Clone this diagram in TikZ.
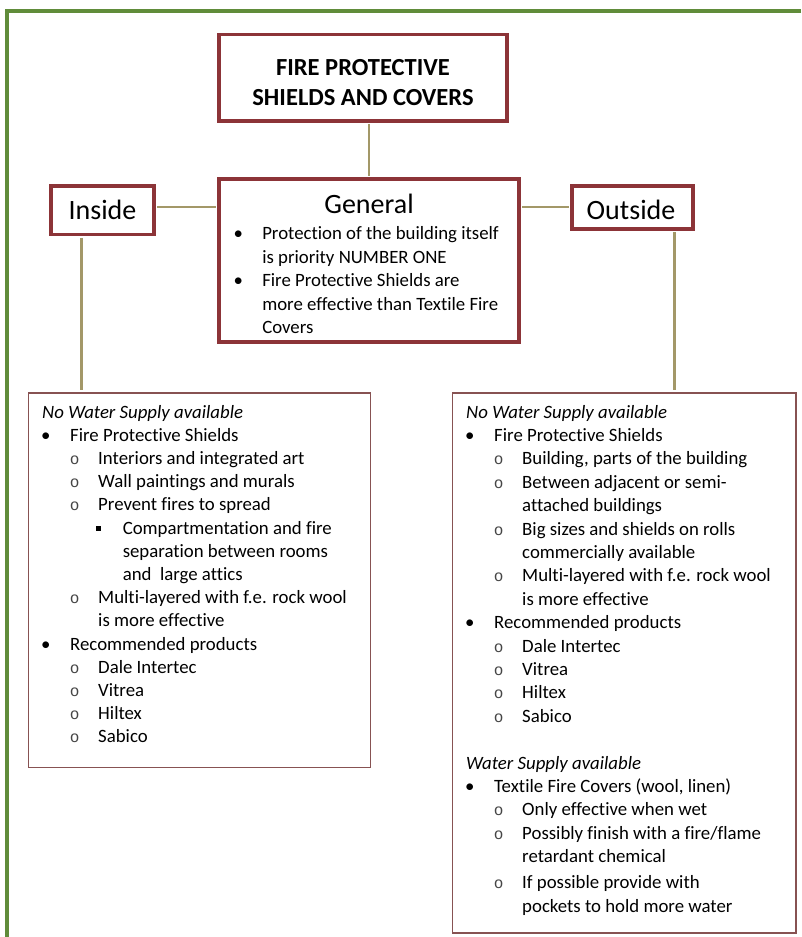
\documentclass[tikz,border=0pt]{standalone}
\usepackage{fontspec}
\setmainfont{Carlito}[Ligatures=NoCommon]
\newfontfamily\monofam{Liberation Mono}
\usetikzlibrary{fit}
\definecolor{boxred}{RGB}{140,52,56}
\definecolor{bigred}{RGB}{135,82,82}
\definecolor{connol}{RGB}{163,152,104}
\definecolor{framegreen}{RGB}{96,140,58}
\definecolor{circgray}{RGB}{70,70,70}
% bullet line: #1 bullet centre, #2 glyph, #3 text start (all from the box's left edge)
\newcommand\Bl[3]{\makebox[0pt][l]{\hspace*{#1}\makebox[0pt][c]{#2}}\hspace*{#3}}
\newcommand\Czero{\hspace*{10.1pt}}
\newcommand\Ione{\Bl{12.75pt}{\textbullet}{31.1pt}}
\newcommand\Cone{\hspace*{31.1pt}}
\newcommand\Itwo{\Bl{34.5pt}{{\monofam\fontsize{12pt}{12pt}\selectfont\color{circgray}o}}{52.1pt}}
\newcommand\Ctwo{\hspace*{52.1pt}}
\newcommand\Ithree{\Bl{52.5pt}{\rule[2.6pt]{3.75pt}{3.75pt}}{70.5pt}}
\newcommand\Cthree{\hspace*{70.5pt}}
\begin{document}
\begin{tikzpicture}[x=0.75pt,y=-0.75pt,
  hbox/.style={draw=boxred, line width=2.6pt, inner sep=0pt},
  bigbox/.style={draw=bigred, line width=1.3pt, inner sep=0pt},
  conn/.style={draw=connol, line width=2pt, shorten <=1.3pt, shorten >=1.3pt},
  body/.style={inner sep=0pt, anchor=base west, font=\fontsize{14.1pt}{17.45pt}\selectfont},
  head/.style={inner sep=0pt, anchor=base, font=\fontsize{21pt}{25pt}\selectfont},
  titletext/.style={inner sep=0pt, anchor=base, font=\bfseries\fontsize{18.4pt}{22pt}\selectfont}]
\useasboundingbox (0,0) rectangle (801,937);
\fill[white] (0,0) rectangle (801,937);
\draw[framegreen, line width=2.4pt] (801,11) -- (7,11) -- (7,937);

% boxes
\node[hbox, fit={(219,34.5) (507,121)}] (title) {};
\node[hbox, fit={(219,179) (519,342)}] (general) {};
\node[hbox, fit={(51,186) (154,234.5)}] (inside) {};
\node[hbox, fit={(572,186) (693,229)}] (outside) {};
\node[bigbox, fit={(28.5,393) (370.5,767.5)}] (leftbox) {};
\node[bigbox, fit={(452.5,393) (796,933)}] (rightbox) {};

% headings
\node[titletext] (t1) at (363,75.5) {FIRE PROTECTIVE};
\node[titletext] (t2) at (363,105.5) {SHIELDS AND COVERS};
\node[head] (gt) at (369,214) {General};
\node[head] (it) at (102.5,220) {Inside};
\node[head] (ot) at (631,220) {Outside};

% general list
\node[body, font=\fontsize{14.1pt}{17.6pt}\selectfont] (glist) at (219,240) {\parbox[t]{290pt}{%
\Bl{14.25pt}{\textbullet}{32.25pt}Protection of the building itself\\
\hspace*{32.25pt}is priority NUMBER ONE\\
\Bl{14.25pt}{\textbullet}{32.25pt}Fire Protective Shields are\\
\hspace*{32.25pt}more effective than Textile Fire\\
\hspace*{32.25pt}Covers}};

% left list
\node[body, font=\fontsize{14.1pt}{17.4pt}\selectfont] (llist) at (28.5,418) {\parbox[t]{320pt}{%
\Czero\textit{No Water Supply available}\\
\Ione Fire Protective Shields\\
\Itwo Interiors and integrated art\\
\Itwo Wall paintings and murals\\
\Itwo Prevent fires to spread\\
\Ithree Compartmentation and fire\\
\Cthree separation between rooms\\
\Cthree and\ \ large attics\\
\Itwo Multi-layered with f.e. rock wool\\
\Ctwo is more effective\\
\Ione Recommended products\\
\Itwo Dale Intertec\\
\Itwo Vitrea\\
\Itwo Hiltex\\
\Itwo Sabico}};

% right list
\node[body, font=\fontsize{14.1pt}{17.55pt}\selectfont] (rlist) at (452.5,418) {\parbox[t]{320pt}{%
\Czero\textit{No Water Supply available}\\
\Ione Fire Protective Shields\\
\Itwo Building, parts of the building\\
\Itwo Between adjacent or semi-\\
\Ctwo attached buildings\\
\Itwo Big sizes and shields on rolls\\
\Ctwo commercially available\\
\Itwo Multi-layered with f.e. rock wool\\
\Ctwo is more effective\\
\Ione Recommended products\\
\Itwo Dale Intertec\\
\Itwo Vitrea\\
\Itwo Hiltex\\
\Itwo Sabico\\
\mbox{}\\
\Czero\textit{Water Supply available}\\
\Ione Textile Fire Covers (wool, linen)\\
\Itwo Only effective when wet\\
\Itwo Possibly finish with a fire/flame\\
\Ctwo retardant chemical\\[2.2pt]
\Itwo If possible provide with\\
\Ctwo pockets to hold more water}};

% connectors
\coordinate (cy) at (0,207);
\draw[conn] (general.north) -- (general.north |- title.south);
\draw[conn] (inside.east |- cy) -- (general.west |- cy);
\draw[conn] (general.east |- cy) -- (outside.west |- cy);
\path (inside.south west) -- (inside.south east) coordinate[pos=0.3] (ia);
\path (outside.south west) -- (outside.south east) coordinate[pos=0.835] (oa);
\draw[conn] (ia) -- (ia |- leftbox.north);
\draw[conn] (oa) -- (oa |- rightbox.north);
\end{tikzpicture}
\end{document}
